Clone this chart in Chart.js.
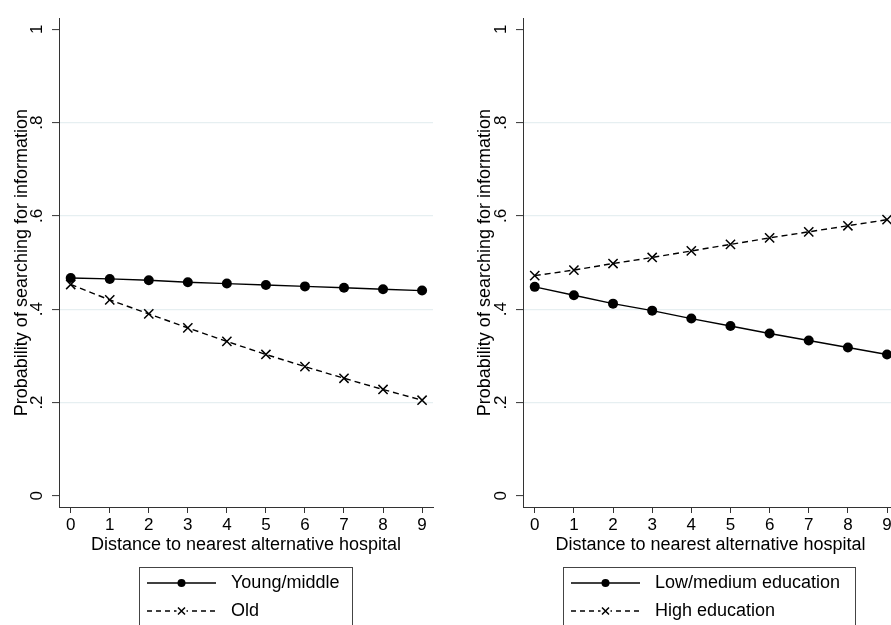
<!DOCTYPE html>
<html>
<head>
<meta charset="utf-8">
<script src="https://cdn.jsdelivr.net/npm/chart.js@4.4.1/dist/chart.umd.min.js"></script>
<style>
  html, body { margin:0; padding:0; background:#fff; overflow:hidden; width:891px; height:625px; }
  .panel { position:absolute; top:0; }
</style>
</head>
<body>
<div class="panel" style="left:0"><canvas id="left" width="450" height="625"></canvas></div>
<div class="panel" style="left:463px"><canvas id="right" width="450" height="625"></canvas></div>
<script>
// values
const distance = [0, 1, 2, 3, 4, 5, 6, 7, 8, 9];
const youngMiddle = [0.467, 0.465, 0.462, 0.458, 0.455, 0.452, 0.449, 0.446, 0.443, 0.440];
const old = [0.453, 0.420, 0.390, 0.360, 0.331, 0.303, 0.277, 0.252, 0.228, 0.205];
const lowMedEdu = [0.448, 0.430, 0.412, 0.397, 0.380, 0.364, 0.348, 0.333, 0.318, 0.303];
const highEdu = [0.472, 0.484, 0.498, 0.511, 0.525, 0.539, 0.553, 0.566, 0.579, 0.592];
const yTicks = [0, 0.2, 0.4, 0.6, 0.8, 1];
const yTickLabels = ['0', '.2', '.4', '.6', '.8', '1'];
const xTitle = 'Distance to nearest alternative hospital';
const yTitle = 'Probability of searching for information';

Chart.defaults.font.family = "'Liberation Sans', Arial, sans-serif";
Chart.defaults.color = '#000';

const pts = arr => arr.map((v, i) => ({x: distance[i], y: v}));

function solidSet(label, arr){
  return { label, data: pts(arr), borderColor:'#000', backgroundColor:'#000', borderWidth:1.4,
    pointStyle:'circle', pointRadius:5, pointBorderWidth:0, pointBackgroundColor:'#000', tension:0 };
}
function dashSet(label, arr){
  return { label, data: pts(arr), borderColor:'#000', backgroundColor:'#000', borderWidth:1.4,
    borderDash:[6,4], pointStyle:'crossRot', pointRadius:6.5, pointBorderWidth:1.5,
    pointBorderColor:'#000', tension:0 };
}

// legend drawn under the plot, Stata style
const legendBox = {
  id:'legendBox',
  afterDraw(chart, args, opts){
    const ctx = chart.ctx;
    ctx.save();
    ctx.strokeStyle = '#444'; ctx.lineWidth = 1;
    ctx.strokeRect(opts.x + 0.5, opts.top + 0.5, opts.width, 120);
    chart.data.datasets.forEach((ds, i) => {
      const y = opts.top + 16 + i * 28;
      const x0 = opts.x + 8, x1 = opts.x + 77, xm = (x0 + x1) / 2;
      ctx.strokeStyle = '#000'; ctx.lineWidth = 1.4;
      ctx.setLineDash(ds.borderDash ? [5,4] : []);
      ctx.beginPath(); ctx.moveTo(x0, y); ctx.lineTo(x1, y); ctx.stroke();
      ctx.setLineDash([]);
      if (ds.pointStyle === 'circle') {
        ctx.fillStyle = '#000';
        ctx.beginPath(); ctx.arc(xm, y, 4, 0, Math.PI * 2); ctx.fill();
      } else {
        ctx.fillStyle = '#fff'; ctx.fillRect(xm - 5, y - 2, 10, 4);
        ctx.lineWidth = 1.5; ctx.beginPath();
        ctx.moveTo(xm - 3.5, y - 3.5); ctx.lineTo(xm + 3.5, y + 3.5);
        ctx.moveTo(xm + 3.5, y - 3.5); ctx.lineTo(xm - 3.5, y + 3.5);
        ctx.stroke();
      }
      ctx.fillStyle = '#000';
      ctx.font = "18px 'Liberation Sans', Arial, sans-serif";
      ctx.textBaseline = 'middle'; ctx.textAlign = 'left';
      ctx.fillText(ds.label, opts.x + 92, y);
    });
    ctx.restore();
  }
};

function makeChart(id, sets, yWidth, padRight, legendX, legendW){
  return new Chart(document.getElementById(id), {
    type:'line',
    data:{ datasets: sets },
    plugins:[legendBox],
    options:{
      responsive:false, animation:false,
      layout:{ padding:{ top:8, right:padRight, bottom:69, left:0 } },
      plugins:{ legend:{display:false}, tooltip:{enabled:false},
        legendBox:{ x:legendX, width:legendW, top:567 } },
      scales:{
        x:{
          type:'linear', min:-0.3, max:9.28,
          afterFit: s => { s.height = 49; },
          afterBuildTicks: s => { s.ticks = distance.map(v => ({value:v})); },
          ticks:{ includeBounds:false, stepSize:1, font:{size:17}, padding:2, maxRotation:0,
            callback: v => String(v) },
          grid:{ drawOnChartArea:false, tickLength:6, tickColor:'#333', tickWidth:1 },
          border:{ color:'#333', width:1 },
          title:{ display:true, text:xTitle, font:{size:18}, padding:{top:0, bottom:0} }
        },
        y:{
          min:-0.024, max:1.024,
          afterFit: s => { s.width = yWidth; },
          afterBuildTicks: s => { s.ticks = yTicks.map(v => ({value:v})); },
          ticks:{ includeBounds:false, font:{size:17}, minRotation:90, maxRotation:90,
            crossAlign:'center', padding:8,
            callback: v => yTickLabels[Math.round(v * 5)] },
          grid:{ tickLength:7, tickColor:'#333', tickWidth:1, lineWidth:1.2,
            color: c => (c.tick && c.tick.value > 0.01 && c.tick.value < 0.99) ? '#e6eff1' : 'rgba(0,0,0,0)' },
          border:{ color:'#333', width:1 },
          title:{ display:true, text:yTitle, font:{size:18}, padding:{top:11, bottom:0} }
        }
      }
    }
  });
}

makeChart('left', [solidSet('Young/middle', youngMiddle), dashSet('Old', old)], 59, 17, 139, 213);
makeChart('right', [solidSet('Low/medium education', lowMedEdu), dashSet('High education', highEdu)], 60, 15, 100, 292);
</script>
</body>
</html>
